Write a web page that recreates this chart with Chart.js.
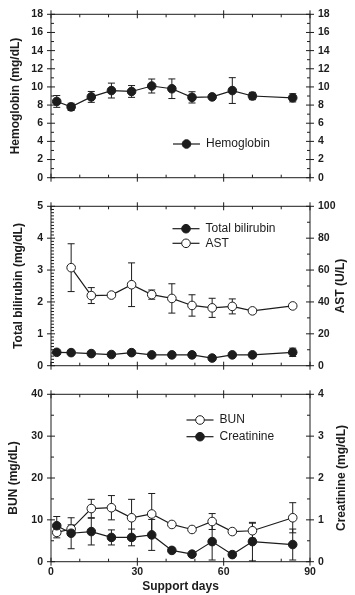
<!DOCTYPE html>
<html>
<head>
<meta charset="utf-8">
<script src="https://cdn.jsdelivr.net/npm/chart.js@4"></script>
<style>
  html, body { margin: 0; padding: 0; background: #fff; }
  body { width: 355px; height: 595px; position: relative; overflow: hidden; }
  .panel { position: absolute; left: 0; width: 355px; }
</style>
</head>
<body>
<div class="panel" style="top:0;height:192px"><canvas id="hgbChart"></canvas></div>
<div class="panel" style="top:192px;height:188px"><canvas id="liverChart"></canvas></div>
<div class="panel" style="top:380px;height:215px"><canvas id="kidneyChart"></canvas></div>
<script>
// support days at which samples were taken
const days = [2, 7, 14, 21, 28, 35, 42, 49, 56, 63, 70, 84];

const hemoglobin    = [8.4, 7.8, 8.9, 9.6, 9.5, 10.1, 9.8, 8.85, 8.9, 9.6, 9.0, 8.8];
const hemoglobinErr = [0.65, 0.4, 0.6, 0.82, 0.65, 0.77, 1.08, 0.62, 0, 1.42, 0.4, 0.45];

const bilirubin    = [0.42, 0.41, 0.38, 0.35, 0.41, 0.34, 0.34, 0.34, 0.24, 0.34, 0.34, 0.42];
const bilirubinErr = [0, 0, 0, 0, 0, 0, 0, 0, 0, 0, 0, 0.13];
const ast    = [null, 61.5, 44, 44.3, 50.8, 44.6, 42.2, 37.8, 36.3, 37.2, 34.4, 37.5];
const astErr = [0, 15, 5, 0, 13.7, 2.9, 9.2, 6.7, 6, 4.7, 0, 0];

const bun    = [7.0, 7.8, 12.7, 12.9, 10.5, 11.4, 8.9, 7.7, 9.6, 7.2, 7.4, 10.5];
const bunErr = [1.3, 1.0, 2.2, 2.9, 4.4, 4.9, 0, 0, 1.9, 0, 1.8, 3.6];
const creatinine    = [0.86, 0.68, 0.72, 0.58, 0.58, 0.64, 0.27, 0.18, 0.48, 0.17, 0.48, 0.41];
const creatinineErr = [0.22, 0.37, 0.32, 0.18, 0.2, 0.37, 0, 0, 0.44, 0, 0.46, 0.37];

const ink = '#1c1c1c';
const fontFam = '"Liberation Sans", Arial, sans-serif';
const tickFont = { family: fontFam, size: 10.5, weight: 'bold' };
const titleFont = { family: fontFam, size: 12, weight: 'bold' };

const pts = (vals) => days.map((d, i) => ({ x: d, y: vals[i] }));

function series(label, vals, err, filled, yAxisID, order) {
  return {
    label: label,
    data: pts(vals),
    err: err,
    yAxisID: yAxisID,
    order: order || 0,
    borderColor: ink,
    borderWidth: 1.2,
    backgroundColor: filled ? ink : '#fff',
    pointBackgroundColor: filled ? ink : '#fff',
    pointBorderColor: ink,
    pointBorderWidth: 1,
    pointRadius: 4.3,
    tension: 0,
    fill: false
  };
}

// box around plot area + crossing major ticks and inner minor ticks
const frameTicks = {
  id: 'frameTicks',
  afterDraw(chart, args, o) {
    const { ctx, chartArea: a, scales } = chart;
    ctx.save();
    ctx.strokeStyle = ink;
    ctx.lineWidth = 1;
    ctx.strokeRect(a.left, a.top, a.right - a.left, a.bottom - a.top);
    ctx.beginPath();
    const each = (scale, minor, major, fn) => {
      const n = Math.round((scale.max - scale.min) / minor);
      for (let i = 0; i <= n; i++) {
        const v = scale.min + i * minor;
        const r = v / major;
        fn(scale.getPixelForValue(v), Math.abs(r - Math.round(r)) < 1e-6);
      }
    };
    each(scales.x, o.x[0], o.x[1], (p, big) => {
      if (big) {
        ctx.moveTo(p, a.top - 4); ctx.lineTo(p, a.top + 4);
        ctx.moveTo(p, a.bottom - 4); ctx.lineTo(p, a.bottom + 4);
      } else {
        ctx.moveTo(p, a.top); ctx.lineTo(p, a.top + 3);
        ctx.moveTo(p, a.bottom); ctx.lineTo(p, a.bottom - 3);
      }
    });
    each(scales.y, o.y[0], o.y[1], (p, big) => {
      if (big) { ctx.moveTo(a.left - 4, p); ctx.lineTo(a.left + 4, p); }
      else { ctx.moveTo(a.left, p); ctx.lineTo(a.left + 3, p); }
    });
    each(scales.y1, o.y1[0], o.y1[1], (p, big) => {
      if (big) { ctx.moveTo(a.right - 4, p); ctx.lineTo(a.right + 4, p); }
      else { ctx.moveTo(a.right, p); ctx.lineTo(a.right - 3, p); }
    });
    ctx.stroke();

    // right-hand axis title, reading bottom to top like the left one
    if (o.rightTitle) {
      ctx.translate(o.rightTitleX, (a.top + a.bottom) / 2);
      ctx.rotate(-Math.PI / 2);
      ctx.font = 'bold 12px ' + fontFam;
      ctx.fillStyle = ink;
      ctx.textAlign = 'center';
      ctx.textBaseline = 'middle';
      ctx.fillText(o.rightTitle, 0, 0);
    }
    ctx.restore();
  }
};

// vertical error bars with caps, drawn under the markers
const errorBars = {
  id: 'errorBars',
  beforeDatasetsDraw(chart) {
    const ctx = chart.ctx;
    ctx.save();
    ctx.strokeStyle = ink;
    ctx.lineWidth = 1;
    chart.data.datasets.forEach((ds, i) => {
      if (!ds.err) return;
      const meta = chart.getDatasetMeta(i);
      const ys = chart.scales[meta.yAxisID];
      ds.data.forEach((d, j) => {
        const e = ds.err[j];
        if (d.y == null || !e) return;
        const x = meta.data[j].x;
        const t = ys.getPixelForValue(d.y + e);
        const b = ys.getPixelForValue(d.y - e);
        ctx.beginPath();
        ctx.moveTo(x, t); ctx.lineTo(x, b);
        ctx.moveTo(x - 3.5, t); ctx.lineTo(x + 3.5, t);
        ctx.moveTo(x - 3.5, b); ctx.lineTo(x + 3.5, b);
        ctx.stroke();
      });
    });
    ctx.restore();
  }
};

// legend inside the plot: line through marker, then the label
const inLegend = {
  id: 'inLegend',
  afterDatasetsDraw(chart, args, o) {
    const ctx = chart.ctx;
    ctx.save();
    ctx.font = '12px ' + fontFam;
    ctx.textBaseline = 'middle';
    chart.data.datasets.forEach((ds, i) => {
      const y = o.y + i * o.row;
      ctx.strokeStyle = ink;
      ctx.lineWidth = 1.2;
      ctx.beginPath();
      ctx.moveTo(o.x, y); ctx.lineTo(o.x + 27, y);
      ctx.stroke();
      ctx.beginPath();
      ctx.arc(o.x + 13.5, y, 4.3, 0, Math.PI * 2);
      ctx.fillStyle = ds.pointBackgroundColor;
      ctx.fill();
      ctx.lineWidth = 1;
      ctx.stroke();
      ctx.fillStyle = ink;
      ctx.fillText(ds.label, o.x + 33, y);
    });
    ctx.restore();
  }
};

function yAxis(pos, max, step, title, titlePad) {
  return {
    type: 'linear',
    position: pos,
    min: 0,
    max: max,
    afterFit: (s) => { s.width = pos === 'left' ? 51 : 45; },
    grid: { display: false, drawTicks: false },
    border: { display: false },
    ticks: { stepSize: step, padding: 8, color: ink, font: tickFont },
    title: {
      display: !!title,
      text: title || '',
      color: ink,
      font: titleFont,
      padding: { top: titlePad, bottom: 0 }
    }
  };
}

function xAxis(show) {
  return {
    type: 'linear',
    display: show,
    min: 0,
    max: 90,
    afterFit: (s) => { if (show) s.height = 33.3; },
    grid: { display: false, drawTicks: false },
    border: { display: false },
    ticks: { stepSize: 30, padding: 4, color: ink, font: tickFont },
    title: {
      display: show,
      text: 'Support days',
      color: ink,
      font: { family: fontFam, size: 12, weight: 'bold' },
      padding: { top: 0, bottom: 1 }
    }
  };
}

function makeChart(id, datasets, pad, scales, ticksCfg, legendCfg) {
  return new Chart(document.getElementById(id), {
    type: 'line',
    data: { datasets: datasets },
    options: {
      responsive: true,
      maintainAspectRatio: false,
      animation: false,
      devicePixelRatio: 1,
      layout: { padding: pad },
      scales: scales,
      plugins: {
        legend: { display: false },
        tooltip: { enabled: false },
        frameTicks: ticksCfg,
        inLegend: legendCfg
      }
    },
    plugins: [errorBars, frameTicks, inLegend]
  });
}

makeChart('hgbChart',
  [series('Hemoglobin', hemoglobin, hemoglobinErr, true, 'y')],
  { top: 10, bottom: 7, left: 0, right: 0 },
  { x: xAxis(false), y: yAxis('left', 18, 2, 'Hemoglobin (mg/dL)', 8), y1: yAxis('right', 18, 2, null, 0) },
  { x: [10, 30], y: [1, 2], y1: [1, 2] },
  { x: 173, y: 144, row: 0 });

makeChart('liverChart',
  [series('Total bilirubin', bilirubin, bilirubinErr, true, 'y'),
   series('AST', ast, astErr, false, 'y1')],
  { top: 8, bottom: 7.3, left: 0, right: 0 },
  { x: xAxis(false), y: yAxis('left', 5, 1, 'Total bilirubin (mg/dL)', 11), y1: yAxis('right', 100, 20, null, 0) },
  { x: [10, 30], y: [0.1, 1], y1: [10, 20], rightTitle: 'AST (U/L)', rightTitleX: 341 },
  { x: 172.5, y: 36.7, row: 14.6 });

makeChart('kidneyChart',
  [series('BUN', bun, bunErr, false, 'y', 2),
   series('Creatinine', creatinine, creatinineErr, true, 'y1', 1)],
  { top: 6, bottom: 0, left: 0, right: 0 },
  { x: xAxis(true), y: yAxis('left', 40, 10, 'BUN (mg/dL)', 6), y1: yAxis('right', 4, 1, null, 0) },
  { x: [10, 30], y: [5, 10], y1: [0.5, 1], rightTitle: 'Creatinine (mg/dL)', rightTitleX: 342 },
  { x: 186.5, y: 40, row: 16.7 });
</script>
</body>
</html>
